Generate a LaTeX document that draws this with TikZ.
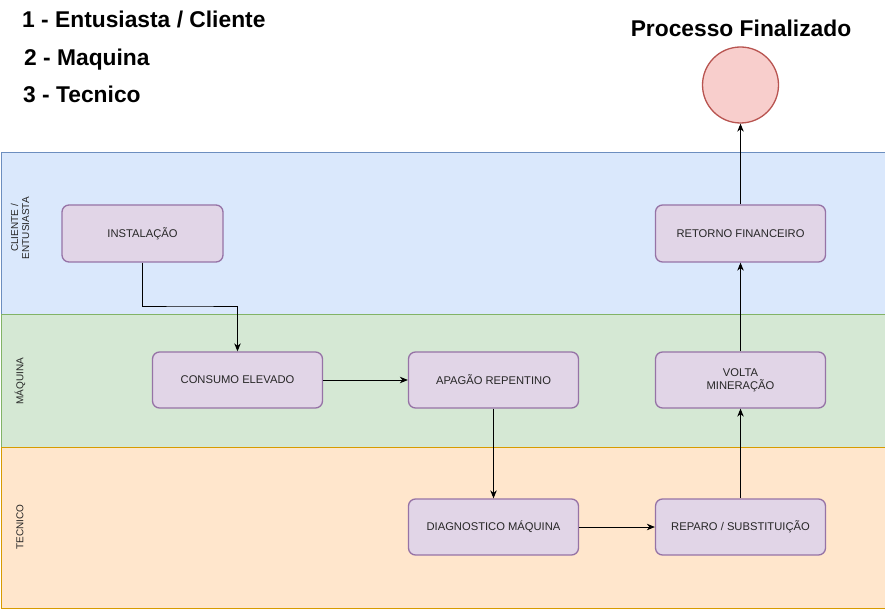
\documentclass[tikz,border=0pt]{standalone}
\usepackage{fontspec}
\setmainfont{Liberation Sans}
\usetikzlibrary{arrows.meta}
\definecolor{laneblue}{HTML}{DAE8FC}\definecolor{laneblueD}{HTML}{6C8EBF}
\definecolor{lanegreen}{HTML}{D5E8D4}\definecolor{lanegreenD}{HTML}{82B366}
\definecolor{laneorange}{HTML}{FFE6CC}\definecolor{laneorangeD}{HTML}{D79B00}
\definecolor{boxfill}{HTML}{E1D5E7}\definecolor{boxdraw}{HTML}{9673A6}
\definecolor{endfill}{HTML}{F8CECC}\definecolor{enddraw}{HTML}{B85450}
\tikzset{
  stepbox/.style={draw=boxdraw, fill=boxfill, line width=1.3pt, rounded corners=7pt,
    minimum width=170pt, minimum height=56pt, inner sep=0pt, align=center,
    font=\fontsize{11.2}{13}\selectfont, text=black!85},
  lanelabel/.style={rotate=90, align=center, font=\fontsize{10}{11}\selectfont, text=black!85},
  legend/.style={anchor=base west, inner sep=0pt, font=\fontsize{22.8}{26}\selectfont\bfseries},
  flow/.style={-{Stealth[length=8pt,width=6.5pt,inset=2.5pt]}, line width=0.9pt, black}
}
\begin{document}
\begin{tikzpicture}[x=1pt,y=-1pt]
\useasboundingbox (0,0) rectangle (885,609);
% lanes
\node[draw=laneblueD, fill=laneblue, line width=0.8pt, minimum width=884pt, minimum height=162pt, inner sep=0pt, anchor=north west] (lane1) at (0.5,152) {};
\node[draw=lanegreenD, fill=lanegreen, line width=0.8pt, minimum width=884pt, minimum height=133pt, inner sep=0pt, anchor=north west] (lane2) at (0.5,314) {};
\node[draw=laneorangeD, fill=laneorange, line width=0.8pt, minimum width=884pt, minimum height=161pt, inner sep=0pt, anchor=north west] (lane3) at (0.5,447) {};
\node[lanelabel] (l1) at (20,228) {CLIENTE /\\ENTUSIASTA};
\node[lanelabel] (l2) at (20,381) {MÁQUINA};
\node[lanelabel] (l3) at (20,527) {TECNICO};
% legend
\node[legend] (g1) at (22,28) {1 - Entusiasta / Cliente};
\node[legend] (g2) at (24,66) {2 - Maquina};
\node[legend] (g3) at (23,103) {3 - Tecnico};
% boxes
\node[stepbox, minimum width=161pt, minimum height=57pt] (inst) at (142.5,233.5) {INSTALAÇÃO};
\node[stepbox] (cons) at (237.5,380) {CONSUMO ELEVADO};
\node[stepbox] (apag) at (493.5,380) {APAGÃO REPENTINO};
\node[stepbox] (volta) at (740.5,380) {VOLTA\\MINERAÇÃO};
\node[stepbox] (diag) at (493.5,527) {DIAGNOSTICO MÁQUINA};
\node[stepbox] (rep) at (740.5,527) {REPARO / SUBSTITUIÇÃO};
\node[stepbox, minimum height=57pt] (ret) at (740.5,233.5) {RETORNO FINANCEIRO};
% end
\node[circle, draw=enddraw, fill=endfill, line width=1.3pt, minimum size=76pt, inner sep=0pt] (fim) at (740.5,85) {};
\node[font=\fontsize{22.8}{26}\selectfont\bfseries, inner sep=0pt, anchor=base] (fimt) at (741,37) {Processo Finalizado};
% connectors
\draw[flow] (inst.south) |- (190,306) -| (cons.north);
\draw[flow] (cons) -- (apag);
\draw[flow] (apag) -- (diag);
\draw[flow] (diag) -- (rep);
\draw[flow] (rep) -- (volta);
\draw[flow] (volta) -- (ret);
\draw[flow] (ret) -- (fim);
\end{tikzpicture}
\end{document}
